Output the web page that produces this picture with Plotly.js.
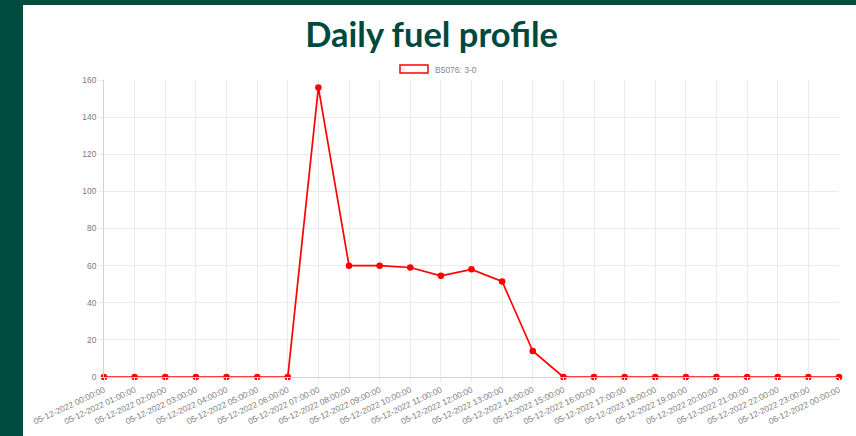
<!DOCTYPE html>
<html>
<head>
<meta charset="utf-8">
<script src="https://cdn.plot.ly/plotly-3.0.1.min.js"></script>
<style>
html,body{margin:0;padding:0;width:856px;height:436px;overflow:hidden;background:#004b40;}
#chart{position:absolute;left:23px;top:5px;width:833px;height:431px;background:#fff;}
</style>
</head>
<body>
<div id="chart"></div>
<script>
const chartTitle = "Daily fuel profile";
const seriesName = "B5076: 3-0";
const timeLabels = [
  "05-12-2022 00:00:00","05-12-2022 01:00:00","05-12-2022 02:00:00","05-12-2022 03:00:00",
  "05-12-2022 04:00:00","05-12-2022 05:00:00","05-12-2022 06:00:00","05-12-2022 07:00:00",
  "05-12-2022 08:00:00","05-12-2022 09:00:00","05-12-2022 10:00:00","05-12-2022 11:00:00",
  "05-12-2022 12:00:00","05-12-2022 13:00:00","05-12-2022 14:00:00","05-12-2022 15:00:00",
  "05-12-2022 16:00:00","05-12-2022 17:00:00","05-12-2022 18:00:00","05-12-2022 19:00:00",
  "05-12-2022 20:00:00","05-12-2022 21:00:00","05-12-2022 22:00:00","05-12-2022 23:00:00",
  "06-12-2022 00:00:00"
];
const fuelValues = [0,0,0,0,0,0,0,156,60,60,59,54.5,58,51.5,14,0,0,0,0,0,0,0,0,0,0];
const yTicks = [0,20,40,60,80,100,120,140,160];

const tickFont = {family:"Liberation Sans, Arial, sans-serif", size:8.4, color:"#7a7a7a"};

const trace = {
  x: timeLabels,
  y: fuelValues,
  type: "scatter",
  mode: "lines+markers",
  name: seriesName,
  line: {color:"#ff0000", width:1.7},
  marker: {color:"#ff0000", size:6.5},
  cliponaxis: false,
  showlegend: false,
  hoverinfo: "x+y"
};

const layout = {
  width: 833, height: 431,
  margin: {l:81, r:17, t:75, b:59},
  paper_bgcolor: "#ffffff",
  plot_bgcolor: "#ffffff",
  title: {
    text: "<b>" + chartTitle + "</b>",
    font: {family:"Lato, 'Open Sans', sans-serif", size:34.5, color:"#00493e"},
    x: 0.4905, xanchor: "center",
    y: 1 - 30/431, yanchor: "middle", yref: "container"
  },
  xaxis: {
    type: "category",
    range: [0, timeLabels.length - 1],
    tickangle: -25,
    tickfont: tickFont,
    showgrid: true, gridcolor: "#ebebeb", gridwidth: 1,
    showline: true, linecolor: "#d2d2d2", linewidth: 1,
    ticks: "outside", ticklen: 4, tickcolor: "#ebebeb",
    zeroline: false, fixedrange: true
  },
  yaxis: {
    range: [0, 160],
    tickvals: yTicks,
    ticktext: yTicks.map(String),
    tickfont: tickFont,
    showgrid: true, gridcolor: "#ebebeb", gridwidth: 1,
    showline: true, linecolor: "#d2d2d2", linewidth: 1,
    ticks: "outside", ticklen: 5, tickcolor: "#ebebeb",
    zeroline: false, fixedrange: true
  },
  shapes: [{
    type: "rect", xref: "paper", yref: "paper",
    x0: 0.4027, x1: 0.4408, y0: 1.0236, y1: 1.0505,
    line: {color:"#ff0000", width:1.5}, fillcolor: "rgba(255,255,255,0)"
  }],
  annotations: [{
    text: seriesName, xref: "paper", yref: "paper",
    x: 0.4476, y: 1.0337, xanchor: "left", yanchor: "middle",
    showarrow: false,
    font: {family:"Liberation Sans, Arial, sans-serif", size:8.5, color:"#888"}
  }]
};

Plotly.newPlot("chart", [trace], layout, {displayModeBar:false, staticPlot:true});
</script>
</body>
</html>
